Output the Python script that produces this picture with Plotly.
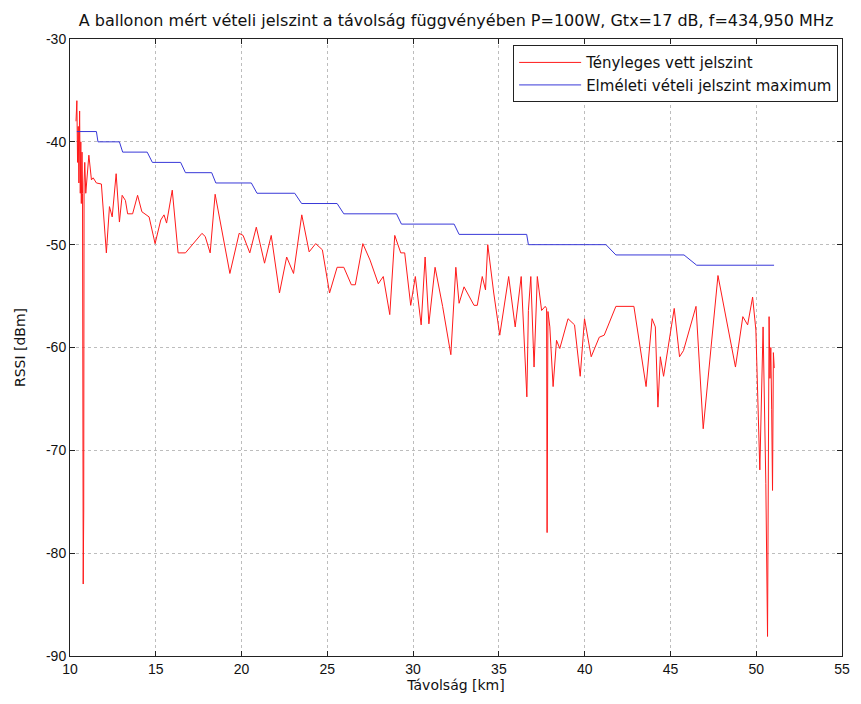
import plotly.graph_objects as go

# Measured RSSI (red)
dist_meas = [10.35, 10.40, 10.44, 10.48, 10.52, 10.56, 10.60, 10.63, 10.66, 10.70,
             10.73, 10.77, 10.78, 10.80, 10.82, 10.86, 10.92, 11.00, 11.10, 11.25,
             11.35, 11.54, 11.83, 12.12, 12.30, 12.46, 12.69, 12.88, 13.04, 13.23,
             13.36, 13.65, 13.94, 14.19, 14.61, 14.96, 15.29, 15.48, 15.63, 15.96,
             16.30, 16.73, 17.21, 17.69, 17.88, 18.17, 18.46, 19.32, 19.86, 20.09,
             20.48, 20.86, 21.34, 21.73, 22.21, 22.63, 23.03, 23.51, 23.94, 24.32,
             24.71, 25.13, 25.57, 25.96, 26.40, 26.63, 27.07, 27.49, 27.97, 28.26,
             28.64, 28.93, 29.28, 29.51, 29.86, 30.13, 30.47, 30.70, 30.92, 31.28,
             31.72, 32.20, 32.49, 32.68, 32.97, 33.55, 33.74, 34.03, 34.22, 34.35,
             34.70, 35.05, 35.57, 35.95, 36.30, 36.63, 36.72, 36.86, 37.05, 37.24,
             37.49, 37.70, 37.78, 37.81, 37.86, 37.97, 38.16, 38.36, 38.55, 39.03,
             39.41, 39.74, 39.99, 40.38, 40.85, 41.14, 41.82, 42.87, 43.58, 43.93,
             44.12, 44.27, 44.41, 44.60, 45.22, 45.53, 45.76, 46.49, 46.91, 47.77,
             48.79, 49.22, 49.50, 49.79, 49.98, 50.21, 50.40, 50.56, 50.66, 50.75,
             50.80, 50.85, 50.90, 50.95, 51.00, 51.05]
rssi_meas = [-38.0, -36.0, -42.0, -38.5, -44.0, -37.0, -45.0, -40.0, -46.0, -41.0,
             -45.0, -83.0, -68.0, -76.0, -44.0, -42.0, -45.0, -43.0, -41.3, -43.7,
             -43.5, -44.0, -44.1, -50.8, -46.3, -47.3, -43.1, -47.8, -45.2, -45.7,
             -47.0, -47.0, -45.2, -46.8, -47.3, -49.9, -47.6, -47.1, -47.9, -44.7,
             -50.8, -50.8, -49.9, -48.9, -49.2, -50.8, -45.1, -52.8, -48.9, -49.1,
             -50.8, -48.3, -51.8, -49.1, -54.7, -51.2, -52.8, -47.1, -50.7, -49.9,
             -50.5, -54.7, -52.2, -52.2, -53.9, -53.9, -49.9, -51.5, -53.8, -53.1,
             -56.8, -49.1, -50.8, -50.8, -55.9, -53.1, -57.8, -51.2, -57.7, -52.2,
             -56.0, -60.7, -52.2, -55.7, -54.1, -55.9, -55.9, -53.1, -54.4, -50.0,
             -54.7, -58.8, -53.1, -58.0, -53.1, -64.8, -56.4, -53.1, -61.9, -53.1,
             -56.4, -56.0, -56.2, -78.0, -56.5, -58.0, -63.8, -59.3, -60.1, -57.2,
             -57.8, -62.8, -57.2, -60.9, -59.0, -58.8, -56.0, -56.0, -63.8, -57.2,
             -58.0, -65.8, -60.9, -62.8, -56.2, -60.9, -60.3, -56.0, -67.9, -53.0,
             -61.9, -57.0, -57.8, -55.1, -58.3, -71.9, -58.0, -73.2, -88.1, -57.0,
             -63.0, -60.0, -66.0, -73.9, -60.5, -62.0]

# Theoretical maximum (blue)
dist_theo = [10.40, 11.54, 11.63, 12.88, 13.07, 14.50, 14.80, 16.45, 16.73, 18.26,
             18.50, 20.57, 20.90, 23.10, 23.50, 25.57, 25.96, 29.03, 29.32, 32.39,
             32.68, 36.62, 36.72, 41.24, 41.82, 45.79, 46.53, 51.04]
rssi_theo = [-39, -39, -40, -40, -41, -41, -42, -42, -43, -43,
             -44, -44, -45, -45, -46, -46, -47, -47, -48, -48,
             -49, -49, -50, -50, -51, -51, -52, -52]

x_ticks = [10, 15, 20, 25, 30, 35, 40, 45, 50, 55]
x_tick_labels = ["10", "15", "20", "25", "30", "35", "40", "45", "50", "55"]
y_ticks = [-90, -80, -70, -60, -50, -40, -30]
y_tick_labels = ["-90", "-80", "-70", "-60", "-50", "-40", "-30"]

FONT = "DejaVu Sans"
TICKFONT = "Liberation Sans"

fig = go.Figure()
fig.add_trace(go.Scatter(x=dist_meas, y=rssi_meas, mode="lines",
                         name="Tényleges vett jelszint",
                         line=dict(color="#ff1a1a", width=1)))
fig.add_trace(go.Scatter(x=dist_theo, y=rssi_theo, mode="lines",
                         name="Elméleti vételi jelszint maximum",
                         line=dict(color="#3838d8", width=1)))

axis_common = dict(showline=True, linecolor="#222222", linewidth=1, mirror="ticks",
                   ticks="inside", ticklen=5, tickcolor="#222222",
                   showgrid=True, gridcolor="#bdbdbd", griddash="dot", gridwidth=1,
                   zeroline=False, tickfont=dict(family=TICKFONT, size=14, color="#111111"))

# The page body has an 8px margin; figure is sized so that the plot area
# lands at x 70..850, y 39..656 of the 861x704 window.
fig.update_layout(
    width=853, height=696,
    margin=dict(l=62, r=11, t=31, b=48),
    paper_bgcolor="white", plot_bgcolor="white",
    font=dict(family=FONT, color="#111111"),
    title=dict(text="A ballonon mért vételi jelszint a távolság függvényében P=100W, Gtx=17 dB, f=434,950 MHz",
               x=0.5, xref="paper", xanchor="center",
               y=1 - 12 / 696, yref="container", yanchor="middle",
               font=dict(family=FONT, size=16, color="#111111")),
    xaxis=dict(range=[10, 55], tickvals=x_ticks, ticktext=x_tick_labels,
               title=dict(text="Távolság [km]", font=dict(family=FONT, size=14), standoff=4),
               **axis_common),
    yaxis=dict(range=[-90, -30], tickvals=y_ticks, ticktext=y_tick_labels,
               title=dict(text="RSSI [dBm]", font=dict(family=FONT, size=14), standoff=17),
               **axis_common),
    legend=dict(x=0.995, y=0.99, xanchor="right", yanchor="top",
                bgcolor="white", bordercolor="#222222", borderwidth=1,
                font=dict(family=FONT, size=15, color="#111111"),
                itemwidth=62, tracegroupgap=0),
    showlegend=True,
)

fig.write_html("out.html")
